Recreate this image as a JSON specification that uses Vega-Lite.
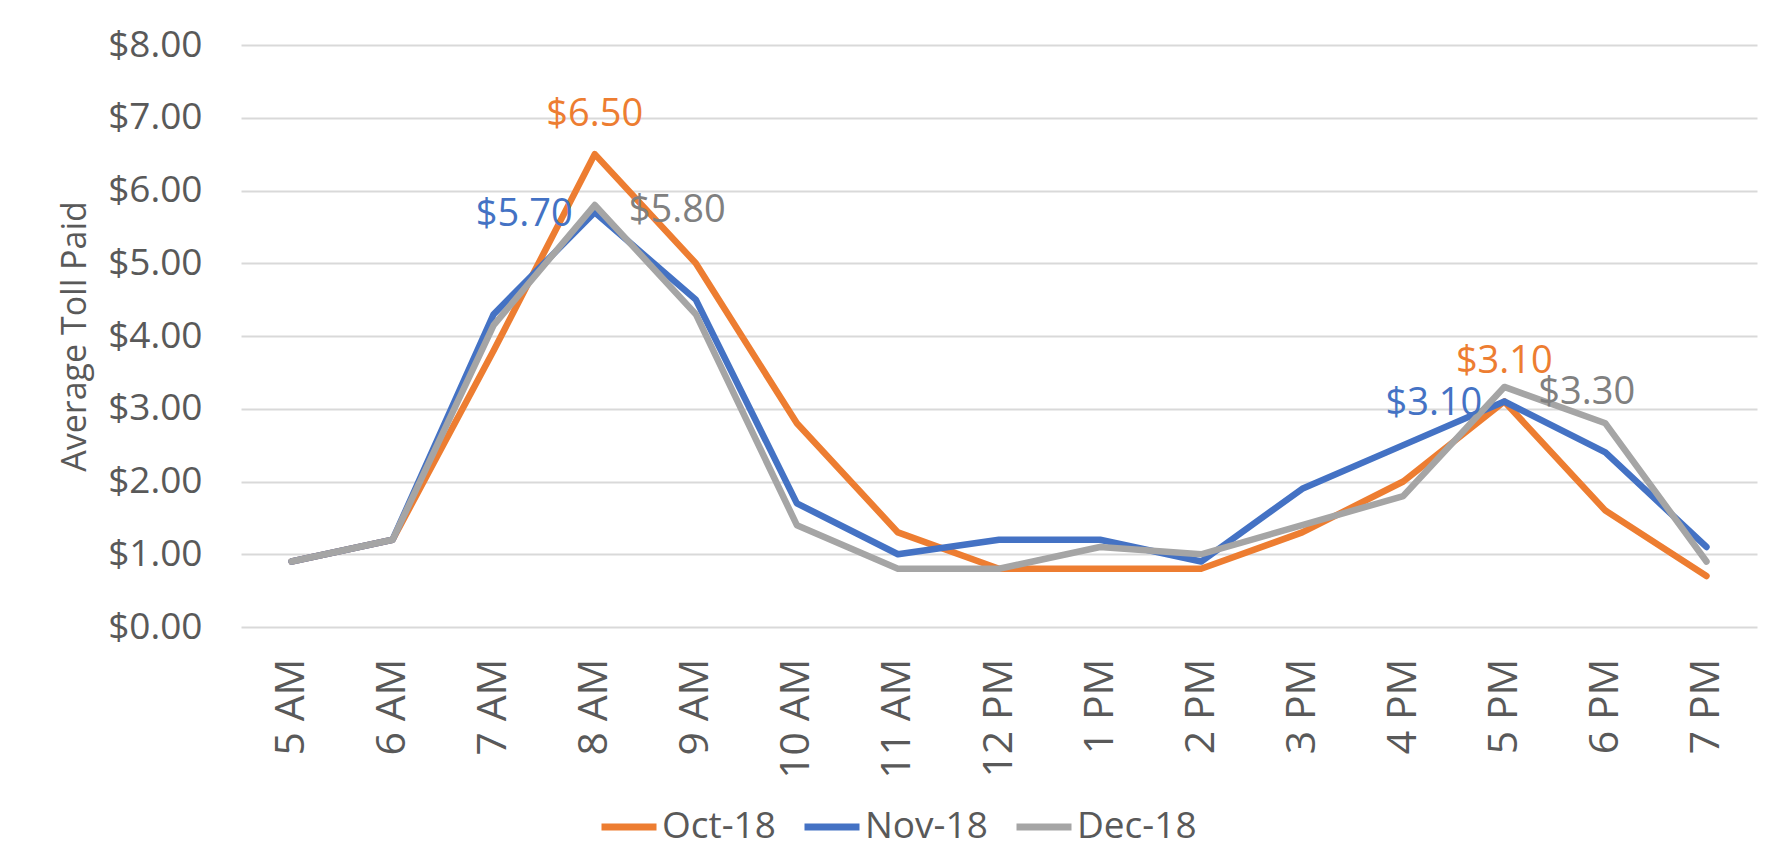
{
  "$schema": "https://vega.github.io/schema/vega-lite/v6.json",
  "width": 1516,
  "height": 582,
  "autosize": {"type": "none"},
  "padding": {"left": 241, "top": 45, "right": 14, "bottom": 237},
  "background": "#ffffff",
  "config": {
    "view": {"stroke": null},
    "font": "Open Sans",
    "axis": {"labelColor": "#595959", "titleColor": "#595959", "labelFont": "Open Sans", "titleFont": "Open Sans"}
  },
  "data": {
    "values": [
      {"hour": "5 AM", "month": "Oct-18", "toll": 0.9},
      {"hour": "6 AM", "month": "Oct-18", "toll": 1.2},
      {"hour": "7 AM", "month": "Oct-18", "toll": 3.8},
      {"hour": "8 AM", "month": "Oct-18", "toll": 6.5},
      {"hour": "9 AM", "month": "Oct-18", "toll": 5.0},
      {"hour": "10 AM", "month": "Oct-18", "toll": 2.8},
      {"hour": "11 AM", "month": "Oct-18", "toll": 1.3},
      {"hour": "12 PM", "month": "Oct-18", "toll": 0.8},
      {"hour": "1 PM", "month": "Oct-18", "toll": 0.8},
      {"hour": "2 PM", "month": "Oct-18", "toll": 0.8},
      {"hour": "3 PM", "month": "Oct-18", "toll": 1.3},
      {"hour": "4 PM", "month": "Oct-18", "toll": 2.0},
      {"hour": "5 PM", "month": "Oct-18", "toll": 3.1},
      {"hour": "6 PM", "month": "Oct-18", "toll": 1.6},
      {"hour": "7 PM", "month": "Oct-18", "toll": 0.7},
      {"hour": "5 AM", "month": "Nov-18", "toll": 0.9},
      {"hour": "6 AM", "month": "Nov-18", "toll": 1.2},
      {"hour": "7 AM", "month": "Nov-18", "toll": 4.3},
      {"hour": "8 AM", "month": "Nov-18", "toll": 5.7},
      {"hour": "9 AM", "month": "Nov-18", "toll": 4.5},
      {"hour": "10 AM", "month": "Nov-18", "toll": 1.7},
      {"hour": "11 AM", "month": "Nov-18", "toll": 1.0},
      {"hour": "12 PM", "month": "Nov-18", "toll": 1.2},
      {"hour": "1 PM", "month": "Nov-18", "toll": 1.2},
      {"hour": "2 PM", "month": "Nov-18", "toll": 0.9},
      {"hour": "3 PM", "month": "Nov-18", "toll": 1.9},
      {"hour": "4 PM", "month": "Nov-18", "toll": 2.5},
      {"hour": "5 PM", "month": "Nov-18", "toll": 3.1},
      {"hour": "6 PM", "month": "Nov-18", "toll": 2.4},
      {"hour": "7 PM", "month": "Nov-18", "toll": 1.1},
      {"hour": "5 AM", "month": "Dec-18", "toll": 0.9},
      {"hour": "6 AM", "month": "Dec-18", "toll": 1.2},
      {"hour": "7 AM", "month": "Dec-18", "toll": 4.15},
      {"hour": "8 AM", "month": "Dec-18", "toll": 5.8},
      {"hour": "9 AM", "month": "Dec-18", "toll": 4.3},
      {"hour": "10 AM", "month": "Dec-18", "toll": 1.4},
      {"hour": "11 AM", "month": "Dec-18", "toll": 0.8},
      {"hour": "12 PM", "month": "Dec-18", "toll": 0.8},
      {"hour": "1 PM", "month": "Dec-18", "toll": 1.1},
      {"hour": "2 PM", "month": "Dec-18", "toll": 1.0},
      {"hour": "3 PM", "month": "Dec-18", "toll": 1.4},
      {"hour": "4 PM", "month": "Dec-18", "toll": 1.8},
      {"hour": "5 PM", "month": "Dec-18", "toll": 3.3},
      {"hour": "6 PM", "month": "Dec-18", "toll": 2.8},
      {"hour": "7 PM", "month": "Dec-18", "toll": 0.9}
    ]
  },
  "encoding": {
    "x": {
      "field": "hour", "type": "ordinal", "sort": null,
      "scale": {"type": "point", "padding": 0.5},
      "axis": {
        "title": null, "labelAngle": -90, "labelFontSize": 41, "labelPadding": 31,
        "ticks": false, "domain": false, "grid": false
      }
    },
    "y": {
      "field": "toll", "type": "quantitative",
      "scale": {"domain": [0, 8], "nice": false},
      "axis": {
        "title": "Average Toll Paid", "titleFontSize": 34, "titleFontWeight": "normal", "titlePadding": 15,
        "values": [0, 1, 2, 3, 4, 5, 6, 7, 8], "format": "$.2f",
        "labelFontSize": 37, "labelPadding": 39, "ticks": false, "domain": false,
        "grid": true, "gridColor": "#d9d9d9", "gridWidth": 2
      }
    }
  },
  "layer": [
    {
      "mark": {"type": "line", "strokeWidth": 6.5, "strokeJoin": "round", "strokeCap": "round"},
      "encoding": {
        "color": {
          "field": "month", "type": "nominal",
          "scale": {"domain": ["Oct-18", "Nov-18", "Dec-18"], "range": ["#ED7D31", "#4472C4", "#A5A5A5"]},
          "legend": {
            "title": null, "orient": "none", "direction": "horizontal",
            "legendX": 357, "legendY": 751,
            "symbolType": "stroke", "symbolSize": 3025, "symbolStrokeWidth": 7,
            "labelFont": "Open Sans", "labelFontSize": 37, "labelColor": "#595959",
            "labelOffset": 2, "columnPadding": 14
          }
        }
      }
    },
    {
      "transform": [{"filter": "datum.month == 'Oct-18' && (datum.hour == '8 AM' || datum.hour == '5 PM')"}],
      "mark": {"type": "text", "fontSize": 38, "color": "#ED7D31", "align": "center", "baseline": "middle", "dy": -39},
      "encoding": {"text": {"field": "toll", "type": "quantitative", "format": "$.2f"}}
    },
    {
      "transform": [{"filter": "datum.month == 'Nov-18' && (datum.hour == '8 AM' || datum.hour == '5 PM')"}],
      "mark": {"type": "text", "fontSize": 38, "color": "#4472C4", "align": "right", "baseline": "middle", "dx": -22, "dy": 3},
      "encoding": {"text": {"field": "toll", "type": "quantitative", "format": "$.2f"}}
    },
    {
      "transform": [{"filter": "datum.month == 'Dec-18' && (datum.hour == '8 AM' || datum.hour == '5 PM')"}],
      "mark": {"type": "text", "fontSize": 38, "color": "#808080", "align": "left", "baseline": "middle", "dx": 34, "dy": 6},
      "encoding": {"text": {"field": "toll", "type": "quantitative", "format": "$.2f"}}
    }
  ]
}
